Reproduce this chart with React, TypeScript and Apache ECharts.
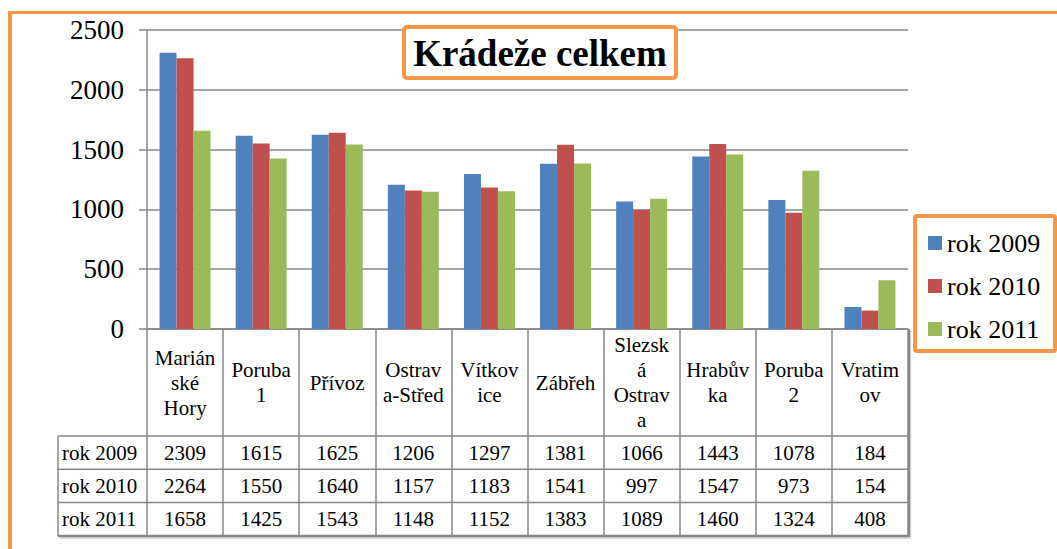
import React, { useEffect, useRef } from "react";
import * as echarts from "echarts";

const categories = [
  "Marián\nské\nHory",
  "Poruba\n1",
  "Přívoz",
  "Ostrav\na-Střed",
  "Vítkov\nice",
  "Zábřeh",
  "Slezsk\ná\nOstrav\na",
  "Hrabův\nka",
  "Poruba\n2",
  "Vratim\nov",
];
const seriesNames = ["rok 2009", "rok 2010", "rok 2011"];
const v2009 = [2309, 1615, 1625, 1206, 1297, 1381, 1066, 1443, 1078, 184];
const v2010 = [2264, 1550, 1640, 1157, 1183, 1541, 997, 1547, 973, 154];
const v2011 = [1658, 1425, 1543, 1148, 1152, 1383, 1089, 1460, 1324, 408];
const seriesValues = [v2009, v2010, v2011];
const colors = ["#4F81BD", "#C0504D", "#9BBB59"];
const yMin = 0;
const yMax = 2500;
const yInterval = 500;
const titleText = "Krádeže celkem";

const FONT = "Liberation Serif";
const GRAY = "#878787";
const ORANGE = "#F79646";

export default function App() {
  const ref = useRef<HTMLDivElement>(null);
  useEffect(() => {
    if (!ref.current) return;
    const chart = echarts.init(ref.current, null, { renderer: "svg" });
    const W = 1057;
    const gridLeft = 147;
    const gridRightX = 908;
    const gridTop = 30;
    const axisY = 329;
    const labelAreaBottom = 436;
    const rowH = 33.3;
    const rowHeaderLeft = 58;
    const rowCenters = [0, 1, 2].map((i) => labelAreaBottom + rowH * (i + 0.5));
    const tableBottom = labelAreaBottom + rowH * 3;

    const valueAxes = seriesValues.map((vals, i) => ({
      type: "category",
      data: categories,
      gridIndex: 0,
      position: "bottom",
      offset: 0,
      axisLine: { show: false },
      axisTick: { show: false },
      splitLine: { show: false },
      axisLabel: {
        interval: 0,
        margin: rowCenters[i] - axisY,
        verticalAlign: "middle",
        fontFamily: FONT,
        fontSize: 21,
        color: "#000",
        formatter: (_v: string, idx: number) => String(vals[idx]),
      },
    }));

    const lineStyle = { stroke: GRAY, lineWidth: 1.5 };
    const graphics: any[] = [
      { type: "line", shape: { x1: 10, y1: 12.5, x2: 10, y2: 560 }, style: { stroke: ORANGE, lineWidth: 4 }, z: 100 },
      { type: "line", shape: { x1: 8, y1: 12.5, x2: W + 5, y2: 12.5 }, style: { stroke: ORANGE, lineWidth: 3 }, z: 100 },
      {
        type: "rect",
        shape: { x: 404, y: 27, width: 272, height: 51, r: 3 },
        style: { fill: "#fff", stroke: ORANGE, lineWidth: 4 },
        z: 100,
      },
      {
        type: "text",
        x: 540,
        y: 53.5,
        style: {
          text: titleText,
          fontFamily: FONT,
          fontSize: 37,
          fontWeight: "bold",
          fill: "#000",
          align: "center",
          verticalAlign: "middle",
        },
        z: 101,
      },
    ];
    [0, 1, 2, 3].forEach((i) => {
      const y = labelAreaBottom + rowH * i;
      graphics.push({
        type: "line",
        shape: { x1: rowHeaderLeft, y1: y, x2: gridRightX, y2: y },
        style: i === 3 ? { stroke: GRAY, lineWidth: 2.5 } : lineStyle,
        z: 50,
      });
    });
    graphics.push({
      type: "line",
      shape: { x1: rowHeaderLeft, y1: labelAreaBottom, x2: rowHeaderLeft, y2: tableBottom },
      style: lineStyle,
      z: 50,
    });
    graphics.push({
      type: "line",
      shape: { x1: gridRightX + 1, y1: axisY, x2: gridRightX + 1, y2: tableBottom + 1 },
      style: { stroke: GRAY, lineWidth: 2 },
      z: 50,
    });
    graphics.push({
      type: "line",
      shape: { x1: rowHeaderLeft + 2, y1: tableBottom + 2, x2: gridRightX + 2.5, y2: tableBottom + 2 },
      style: { stroke: "#d0d0d0", lineWidth: 1.5 },
      z: 49,
    });
    graphics.push({
      type: "line",
      shape: { x1: gridRightX + 2.5, y1: axisY + 2, x2: gridRightX + 2.5, y2: tableBottom + 2 },
      style: { stroke: "#d0d0d0", lineWidth: 1.5 },
      z: 49,
    });
    seriesNames.forEach((n, i) => {
      graphics.push({
        type: "text",
        x: rowHeaderLeft + 4,
        y: rowCenters[i],
        style: { text: n, fontFamily: FONT, fontSize: 21, fill: "#000", align: "left", verticalAlign: "middle" },
        z: 60,
      });
    });

    chart.setOption({
      animation: false,
      backgroundColor: "#fff",
      textStyle: { fontFamily: FONT },
      grid: { left: gridLeft, right: W - gridRightX, top: gridTop, bottom: 549 - axisY, containLabel: false },
      legend: {
        data: seriesNames,
        orient: "vertical",
        left: 915,
        top: 216,
        itemWidth: 14,
        itemHeight: 14,
        itemGap: 17,
        padding: [14, 15, 9, 13],
        borderColor: ORANGE,
        borderWidth: 4,
        borderRadius: 2,
        backgroundColor: "#fff",
        icon: "rect",
        textStyle: { fontFamily: FONT, fontSize: 26, color: "#000", lineHeight: 26 },
      },
      xAxis: [
        {
          type: "category",
          data: categories,
          position: "bottom",
          axisLine: { show: true, lineStyle: { color: GRAY, width: 1.5 } },
          axisTick: { show: true, length: tableBottom - axisY, lineStyle: { color: GRAY, width: 1.5 } },
          axisLabel: {
            interval: 0,
            margin: (axisY + labelAreaBottom) / 2 - axisY,
            verticalAlign: "middle",
            align: "center",
            fontFamily: FONT,
            fontSize: 21,
            lineHeight: 25,
            color: "#000",
          },
        },
        ...valueAxes,
      ],
      yAxis: {
        type: "value",
        min: yMin,
        max: yMax,
        interval: yInterval,
        axisLine: { show: true, lineStyle: { color: GRAY, width: 1.5 } },
        axisTick: { show: true, length: 8, lineStyle: { color: GRAY, width: 1.5 } },
        splitLine: { show: true, lineStyle: { color: GRAY, width: 1.5 } },
        axisLabel: {
          margin: 23,
          fontFamily: FONT,
          fontSize: 27,
          color: "#000",
          formatter: (v: number) => String(v),
        },
      },
      series: seriesNames.map((name, i) => ({
        name,
        type: "bar",
        data: seriesValues[i],
        barGap: "0%",
        barCategoryGap: "33%",
        itemStyle: { color: colors[i] },
      })),
      graphic: graphics,
    });
    return () => chart.dispose();
  }, []);
  return (
    <div
      ref={ref}
      style={{ position: "fixed", left: 0, top: 0, width: 1057, height: 549 }}
    />
  );
}
